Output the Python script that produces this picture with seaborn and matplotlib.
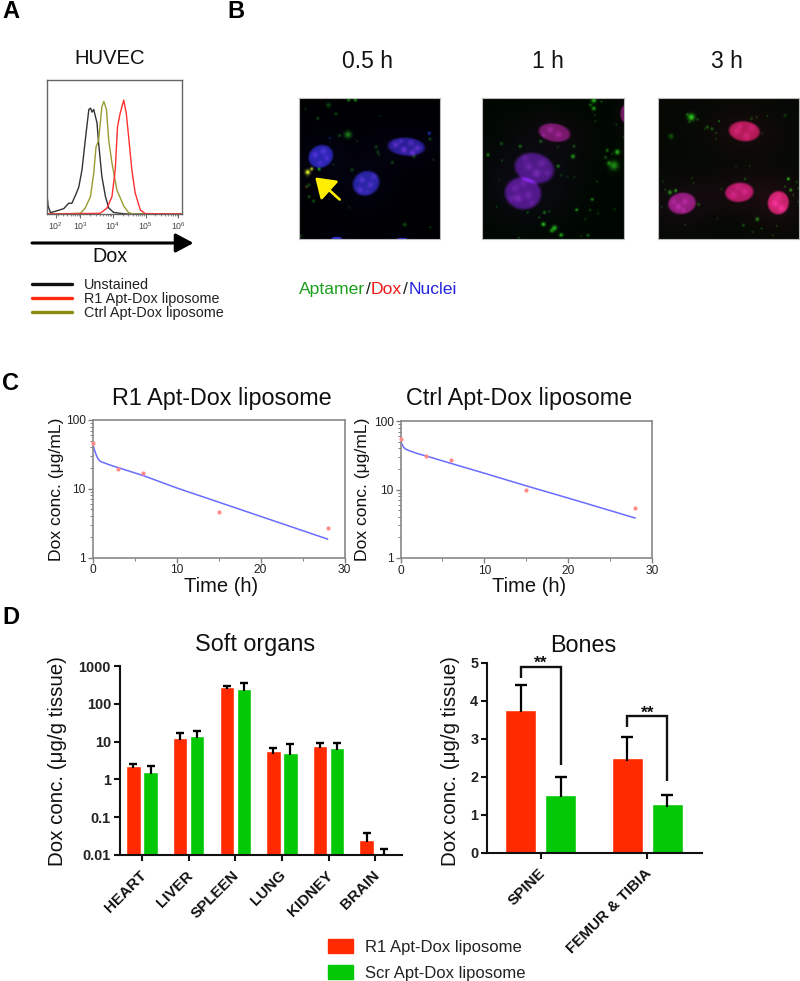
# multi panel figure: flow histogram, micrographs, PK curves, biodistribution bars
import numpy as np
import pandas as pd
import matplotlib
matplotlib.use("Agg")
import matplotlib.pyplot as plt
from matplotlib.lines import Line2D
from matplotlib.patches import Patch
from matplotlib.transforms import ScaledTranslation
import seaborn as sns

sns.set_theme(style="ticks")
plt.rcParams['font.family'] = ['Liberation Sans', 'DejaVu Sans']
plt.rcParams['mathtext.default'] = 'regular'

# panel A, flow histogram (log10 of Dox signal, % of max)
unstained_x = [1.96, 1.98, 2.01, 2.08, 2.23, 2.49, 2.64, 2.74, 2.85, 2.95, 3.05, 3.15, 3.26, 3.31, 3.36, 3.41, 3.51, 3.56, 3.66, 3.77, 3.87, 4.02, 4.22, 4.43, 6.12]
unstained_y = [0, 13, 6, 1, 2, 4, 8, 8, 14, 20, 33, 55, 78, 79, 76, 78, 68, 53, 28, 13, 4.5, 1.2, 0.5, 0, 0]
ctrl_x = [1.96, 3.0, 3.15, 3.31, 3.41, 3.48, 3.56, 3.66, 3.72, 3.80, 3.87, 3.97, 4.12, 4.33, 4.48, 4.63, 6.12]
ctrl_y = [0, 0.5, 4.5, 13, 30.5, 50, 55, 80, 84, 78, 55, 38, 18, 6, 1, 0, 0]
r1_x = [1.96, 3.61, 3.82, 3.97, 4.07, 4.14, 4.22, 4.33, 4.41, 4.48, 4.58, 4.68, 4.84, 4.99, 6.12]
r1_y = [0, 0.5, 4.5, 13, 33, 65, 75, 85, 75, 58, 33, 16, 3, 0.3, 0]
flow_tick_pos = [2.24, 3, 4, 5, 6]
flow_tick_labels = ['$10^{2}$', '$10^{3}$', '$10^{4}$', '$10^{5}$', '$10^{6}$']
flow_legend = ['Unstained', 'R1 Apt-Dox liposome', 'Ctrl Apt-Dox liposome']

# panel B, micrographs: (x, y, rx, ry, angle, r, g, b) for nuclei, (x, y, sigma, amp) for spots
nuclei_05 = [(77, 185, 38, 33, -28, .20, .18, .85), (332, 156, 56, 27, 4, .20, .14, .72), (212, 265, 41, 36, -28, .20, .18, .80),
             (125, 434, 18, 10, 0, .25, .25, 1.), (318, 434, 18, 7, 0, .25, .25, 1.)]
nuclei_1 = [(228, 114, 48, 27, 10, .58, .08, .52), (168, 220, 60, 45, 15, .36, .08, .62), (134, 295, 55, 48, 10, .38, .08, .65),
            (438, 58, 14, 26, 0, .55, .08, .48)]
nuclei_3 = [(283, 110, 47, 30, 5, .85, .08, .40), (268, 292, 43, 29, -5, .85, .08, .48), (385, 323, 32, 35, 10, .95, .12, .50),
            (96, 325, 42, 32, -8, .70, .10, .60)]
specks_05 = [(60, 180, 4, .2), (85, 170, 4, .2), (75, 205, 4, .15), (95, 190, 4, .15), (300, 150, 4, .25), (325, 165, 4, .3), (350, 175, 4, .3), (345, 145, 4, .2),
             (365, 160, 4, .25), (315, 140, 3, .2), (200, 255, 4, .2), (225, 270, 4, .2), (195, 285, 4, .2), (235, 245, 4, .15), (215, 290, 3, .12)]
specks_1 = [(215, 105, 4, .2), (240, 120, 4, .2), (195, 122, 3, .15), (150, 215, 5, .15), (175, 235, 5, .2), (190, 205, 5, .15), (140, 190, 4, .12),
            (205, 235, 4, .12), (120, 310, 5, .2), (150, 300, 5, .15), (110, 280, 5, .12), (135, 265, 5, .12), (160, 325, 4, .1), (100, 310, 4, .1)]
specks_3 = [(260, 110, 5, .15), (290, 125, 5, .15), (305, 100, 5, .12), (270, 95, 4, .12), (250, 300, 5, .15), (285, 290, 5, .15), (265, 275, 5, .1),
            (375, 325, 5, .2), (395, 340, 5, .2), (385, 305, 5, .12), (85, 335, 4, .2), (105, 320, 4, .15), (70, 320, 4, .12), (100, 345, 3, .15)]
green_05 = [(160, 17, 3, .8), (180, 17, 3, .9), (100, 32, 5, .35), (122, 58, 3, .4), (68, 72, 3, .4), (32, 43, 2, .3), (252, 65, 2, .3), (158, 120, 7, .65),
            (133, 123, 3, .4), (242, 157, 3, .4), (247, 172, 3, .4), (250, 180, 2, .4), (290, 203, 3, .4), (170, 225, 3, .4), (186, 140, 2, .3),
            (72, 223, 3, .9), (115, 209, 2, .3), (42, 270, 3, .4), (38, 245, 2, .3), (42, 305, 3, .5), (55, 318, 3, .5), (327, 388, 4, .4), (403, 396, 2, .4),
            (18, 422, 3, .3), (402, 133, 3, .4), (355, 185, 3, .4), (412, 195, 2, .3), (162, 338, 2, .25)]
yellow_05 = [(38, 232, 5, 1.), (50, 222, 3, .9), (35, 275, 3, .3)]
blue_05 = [(400, 116, 3, .8), (104, 131, 2, .5)]
green_1 = [(345, 18, 5, .9), (335, 32, 3, .5), (368, 22, 2, .5), (345, 42, 4, .8), (348, 62, 2, .3), (350, 80, 2, .3), (412, 90, 2, .3), (70, 147, 3, .45),
           (126, 155, 3, .6), (30, 180, 3, .7), (72, 197, 2, .4), (187, 140, 3, .5), (238, 158, 2, .3), (286, 155, 3, .4), (283, 185, 4, .8), (239, 214, 3, .7),
           (385, 167, 3, .6), (415, 172, 5, .9), (400, 178, 2, .4), (380, 188, 3, .4), (405, 212, 9, .7), (390, 205, 4, .6), (248, 241, 2, .4), (267, 246, 2, .3),
           (287, 246, 2, .3), (354, 260, 2, .4), (340, 313, 3, .7), (294, 344, 3, .8), (334, 345, 2, .5), (358, 355, 2, .3), (407, 342, 2, .3), (148, 352, 2, .5),
           (198, 352, 3, .6), (212, 349, 2, .4), (182, 367, 2, .5), (195, 387, 4, 1.), (228, 398, 5, .9), (220, 406, 4, .7), (248, 419, 4, .8), (328, 420, 3, .5),
           (308, 422, 2, .3), (122, 427, 2, .4), (80, 12, 2, .3), (435, 128, 2, .4), (56, 335, 2, .3), (64, 256, 2, .2), (320, 372, 2, .3)]
green_3 = [(124, 68, 7, 1.), (112, 60, 3, .4), (143, 75, 2, .5), (118, 82, 2, .4), (63, 125, 5, .4), (172, 98, 3, .5), (186, 103, 3, .45), (165, 103, 2, .3),
           (198, 115, 2, .4), (198, 132, 2, .3), (207, 80, 2, .6), (305, 72, 3, .3), (320, 68, 2, .3), (352, 65, 2, .3), (405, 63, 3, .3), (337, 117, 2, .25),
           (258, 214, 2, .25), (300, 214, 2, .25), (285, 252, 2, .5), (125, 250, 2, .3), (130, 264, 2, .3), (38, 260, 2, .3), (77, 287, 3, .8), (60, 292, 4, .7),
           (45, 284, 2, .3), (35, 335, 2, .3), (146, 328, 3, .4), (415, 252, 3, 1.), (405, 275, 2, .5), (422, 285, 3, .8), (440, 262, 2, .4), (445, 280, 2, .4),
           (430, 300, 2, .4), (445, 320, 2, .3), (322, 372, 4, .6), (280, 390, 3, .4), (335, 400, 2, .4), (308, 410, 2, .3), (105, 388, 2, .3), (380, 392, 2, .3),
           (368, 420, 2, .3), (215, 283, 2, .3), (202, 370, 2, .2)]
time_labels = ['0.5 h', '1 h', '3 h']
time_label_x = [368, 548, 727]

# panel C, plasma curves
pk_times = [0, 3, 6, 15, 28]
r1_points = [47, 19.2, 17, 4.6, 2.7]
ctrl_points = [54, 30.5, 27, 9.7, 5.3]
fit_times = [0, 0.1, 0.2, 0.4, 0.6, 0.8, 1, 2, 3, 6, 10, 15, 20, 28]
r1_fit = [47, 42, 38, 32, 28, 26, 24.8, 22.3, 20.4, 15.6, 10.3, 6.4, 3.97, 1.85]
ctrl_fit = [54, 48, 45, 41, 39, 38, 37, 33.5, 31, 24.1, 17.3, 11.3, 7.5, 3.83]

# panel D, biodistribution
soft_organs = ['HEART', 'LIVER', 'SPLEEN', 'LUNG', 'KIDNEY', 'BRAIN']
soft_r1 = [2.26, 12.4, 273, 5.5, 7.65, 0.0255]
soft_r1_top = [2.55, 16.5, 290, 6.8, 9.0, 0.038]
soft_scr = [1.6, 13.8, 241, 5.0, 6.9, 0.0115]
soft_scr_top = [2.26, 18.7, 348, 8.8, 9.2, 0.0144]
bones = ['SPINE', 'FEMUR & TIBIA']
bones_r1 = [3.77, 2.49]
bones_r1_top = [4.42, 3.06]
bones_scr = [1.53, 1.28]
bones_scr_top = [2.0, 1.52]
bracket_left = [4.61, 3.3]
bracket_top = [4.9, 3.59]
bracket_right = [2.31, 1.89]
group_names = ['R1 Apt-Dox liposome', 'Scr Apt-Dox liposome']
group_colors = ['#ff2a00', '#03c805']

W, H = 800, 981
fig = plt.figure(figsize=(W / 100, H / 100), dpi=100, facecolor='white')


def box(l, t, r, b):
    return [l / W, 1 - b / H, (r - l) / W, (b - t) / H]


def label(x, y, s, **kw):
    kw.setdefault('ha', 'center')
    kw.setdefault('va', 'center')
    kw.setdefault('color', '#111111')
    return fig.text(x / W, 1 - y / H, s, **kw)


# panel letters
for s, x, y in [('A', 2, 12), ('B', 227, 12), ('C', 2, 383), ('D', 2, 617)]:
    label(x, y, s, ha='left', fontsize=17, fontweight='bold', color='black')

# A
axA = fig.add_axes(box(46.5, 80, 182, 214))
sns.lineplot(x=unstained_x, y=unstained_y, color='#333333', lw=1.0, ax=axA, sort=False)
sns.lineplot(x=ctrl_x, y=ctrl_y, color='#9a9a30', lw=1.0, ax=axA, sort=False)
sns.lineplot(x=r1_x, y=r1_y, color='#ff3030', lw=1.0, ax=axA, sort=False)
axA.set_xlim(1.96, 6.12)
axA.set_ylim(0, 100)
axA.set_yticks([])
axA.set_xticks(flow_tick_pos)
axA.set_xticklabels(flow_tick_labels, fontsize=6.3, color='#444444')
axA.set_xticks([np.log10(m) + d for d in [2, 3, 4, 5] for m in [2, 3, 4, 5, 6, 7, 8, 9]], minor=True)
axA.tick_params(axis='x', which='major', length=3, width=0.7, color='#666666', pad=1.5)
axA.tick_params(axis='x', which='minor', length=1.5, width=0.5, color='#666666')
for sp in axA.spines.values():
    sp.set_color('#666666')
    sp.set_linewidth(1)
label(110, 59, 'HUVEC', fontsize=14.6)
axA.annotate('', xy=(193.5 / W, 1 - 243 / H), xytext=(32 / W, 1 - 243 / H), xycoords='figure fraction', textcoords='figure fraction',
             arrowprops=dict(arrowstyle='-|>,head_length=0.6,head_width=0.32', color='black', lw=2.2, shrinkA=0, shrinkB=0, mutation_scale=18))
label(110, 257, 'Dox', fontsize=14.2)
handles = [Line2D([], [], color=c, lw=2.4) for c in ['#111111', '#ff2a10', '#8b8b10']]
fig.legend(handles, flow_legend, loc='upper left', bbox_to_anchor=(32 / W, 1 - 278 / H), frameon=False, fontsize=10.4, labelspacing=0.0,
           handlelength=2.75, handletextpad=0.85, borderpad=0, borderaxespad=0, labelcolor='#222222')


# B
def render(nuclei, specks, green, yellow, blue, x0, y0, bg, glow):
    n = 141
    xs = x0 + (np.arange(n) + 0.5) * 3
    ys = y0 + (np.arange(n) + 0.5) * 3
    gx, gy = np.meshgrid(xs, ys)
    img = np.zeros((n, n, 3)) + np.array(bg)

    def blob(s, k=1.0):
        return s[3] * np.exp(-((gx - s[0]) ** 2 + (gy - s[1]) ** 2) / (2 * (k * s[2]) ** 2))

    for nu in nuclei:
        cx, cy, rx, ry, ang, r, g, b = nu
        t = np.radians(ang)
        u = (gx - cx) * np.cos(t) + (gy - cy) * np.sin(t)
        v = -(gx - cx) * np.sin(t) + (gy - cy) * np.cos(t)
        d = np.sqrt((u / rx) ** 2 + (v / ry) ** 2)
        mask = np.clip((1.08 - d) / 0.2, 0, 1)
        halo = glow * np.exp(-d ** 2 / 5.0)
        img += (mask * 0.72 + halo)[..., None] * np.array([r, g, b])
    for s in specks:
        img += blob(s, 1.6)[..., None] * np.array([0.8, 0.3, 0.85])
    for s in green:
        img += 0.8 * blob(s)[..., None] * np.array([0.18, 0.95, 0.12])
    for s in yellow:
        img += blob(s)[..., None] * np.array([0.9, 1.0, 0.1])
    for s in blue:
        img += blob(s)[..., None] * np.array([0.1, 0.3, 1.0])
    return np.clip(img, 0, 1)


panels = [(298.5, 440, 12, nuclei_05, specks_05, green_05, yellow_05, blue_05, (0, 0, 0.015), 0.06),
          (482, 623.5, 12, nuclei_1, specks_1, green_1, [], [], (0, 0.03, 0), 0.08),
          (658, 799, 24, nuclei_3, specks_3, green_3, [], [], (0.02, 0.035, 0.015), 0.08)]
for (l, r, x0, nu, sp_, gr, ye, bl, bg, glow), tl, tx in zip(panels, time_labels, time_label_x):
    ax = fig.add_axes(box(l, 97.5, r, 239))
    ax.imshow(render(nu, sp_, gr, ye, bl, x0, 8, bg, glow), extent=[x0, x0 + 423, 8 + 423, 8], interpolation='bilinear', aspect='auto')
    ax.set_xticks([])
    ax.set_yticks([])
    for s in ax.spines.values():
        s.set_color('#bbbbbb')
        s.set_linewidth(0.8)
    label(tx, 62, tl, fontsize=16.5)
    if tl == '0.5 h':
        ax.annotate('', xy=(62, 247), xytext=(135, 313),
                    arrowprops=dict(arrowstyle='-|>,head_length=0.65,head_width=0.44', color='#ffee00', lw=1.9, shrinkA=0, shrinkB=0, mutation_scale=18))

# multi coloured caption, placed word by word
cx = 299
r_ = fig.canvas.get_renderer()
for part, col in [('Aptamer', '#1b9e1b'), ('/', '#222222'), ('Dox', '#f01818'), ('/', '#222222'), ('Nuclei', '#2222e0')]:
    t = label(cx, 289, part, ha='left', fontsize=12.6, color=col)
    cx = t.get_window_extent(r_).x1 + 0.5


# C
def pk_panel(rect, fit, points, title, tx, ylx, xlx):
    ax = fig.add_axes(box(*rect))
    sns.lineplot(x=fit_times, y=fit, color='#6a6cff', lw=1.1, ax=ax)
    sns.scatterplot(x=pk_times, y=points, color='#ff8a8a', s=9, linewidth=0, ax=ax, clip_on=False, zorder=3)
    ax.set_yscale('log')
    ax.set_xlim(0, 30)
    ax.set_ylim(1, 100)
    ax.set_xticks([0, 10, 20, 30])
    ax.set_xticks([5, 15, 25], minor=True)
    ax.set_yticks([1, 10, 100])
    ax.set_yticklabels(['1', '10', '100'])
    ax.tick_params(axis='both', which='major', labelsize=8.6, length=3.5, width=1, color='#808080', pad=1.5, labelcolor='#222222')
    ax.tick_params(axis='both', which='minor', length=2, width=0.7, color='#808080')
    ax.tick_params(axis='y', which='minor', left=True)
    for sp in ax.spines.values():
        sp.set_color('#888888')
        sp.set_linewidth(1.2)
    label(tx, 399, title, fontsize=16.8)
    label(xlx, 587, 'Time (h)', fontsize=14.5)
    label(ylx, 489, 'Dox conc. (μg/mL)', fontsize=12.6, rotation=90)
    return ax


pk_panel((92.5, 420, 344.5, 557.5), r1_fit, r1_points, 'R1 Apt-Dox liposome', 222, 56.5, 221.5)
pk_panel((400.5, 421, 652, 558), ctrl_fit, ctrl_points, 'Ctrl Apt-Dox liposome', 519, 363, 529)

# D
axS = fig.add_axes(box(120, 666, 401.7, 855))
dfS = pd.DataFrame({'organ': soft_organs * 2, 'group': [group_names[0]] * 6 + [group_names[1]] * 6, 'conc': soft_r1 + soft_scr})
sns.barplot(data=dfS, x='organ', y='conc', hue='group', palette=group_colors, saturation=1, errorbar=None, width=0.73, gap=0.15,
            legend=False, log_scale=True, ax=axS)
# zero based bars do not survive the log axis, start them at the axis floor
for cont in axS.containers:
    for p in cont:
        top = p.get_height()
        p.set_y(0.01)
        p.set_height(top - 0.01)

axB = fig.add_axes(box(487.3, 662.7, 701.7, 853))
dfB = pd.DataFrame({'organ': bones * 2, 'group': [group_names[0]] * 2 + [group_names[1]] * 2, 'conc': bones_r1 + bones_scr})
sns.barplot(data=dfB, x='organ', y='conc', hue='group', palette=group_colors, saturation=1, errorbar=None, width=0.75, gap=0.24,
            legend=False, ax=axB)

# error bars, the stem runs a little way into the bar
for ax, tops, vals, cap, log_axis in [(axS, [soft_r1_top, soft_scr_top], [soft_r1, soft_scr], 3.2, True),
                                      (axB, [bones_r1_top, bones_scr_top], [bones_r1, bones_scr], 4.3, False)]:
    for cont, top, val in zip(ax.containers, tops, vals):
        xs = [p.get_x() + p.get_width() / 2 for p in cont]
        upper = np.array(top) - np.array(val)
        lower = np.array(val) * 0.12 if log_axis else np.full(len(val), 0.07)
        _, caps, _ = ax.errorbar(xs, val, yerr=[lower, upper], fmt='none', ecolor='black', elinewidth=1.6, capsize=cap, capthick=1.7,
                                 clip_on=False, zorder=5)
        caps[0].set_visible(False)
    ax.set_xlabel('')
    ax.set_ylabel('')
    sns.despine(ax=ax)
    for s in ['left', 'bottom']:
        ax.spines[s].set_linewidth(1.5)
        ax.spines[s].set_color('#111111')
    ax.tick_params(axis='both', which='major', length=4.5, width=1.5, color='#111111', pad=2)
    ax.tick_params(axis='y', which='minor', left=False)

axS.set_xlim(-0.472, 5.57)
axS.set_ylim(0.01, 1000)
axS.set_yticks([0.01, 0.1, 1, 10, 100, 1000])
axS.set_yticklabels(['0.01', '0.1', '1', '10', '100', '1000'], fontweight='bold', fontsize=10.4, color='#222222')
axB.set_xlim(-0.5, 1.509)
axB.set_ylim(0, 5)
axB.set_yticks([0, 1, 2, 3, 4, 5])
axB.set_yticklabels(['0', '1', '2', '3', '4', '5'], fontweight='bold', fontsize=10.4, color='#222222')
for ax in [axS, axB]:
    ax.tick_params(axis='x', which='major', pad=5)
    plt.setp(ax.get_xticklabels(), rotation=45, ha='right', rotation_mode='anchor', fontweight='bold', fontsize=11, color='#111111')
    for t in ax.get_xticklabels():
        t.set_transform(t.get_transform() + ScaledTranslation(-3 / 100, 0, fig.dpi_scale_trans))

# significance brackets on the bones panel
red_bars, green_bars = axB.containers[0], axB.containers[1]
for i in range(2):
    xa = red_bars[i].get_x() + red_bars[i].get_width() / 2
    xb = green_bars[i].get_x() + green_bars[i].get_width() / 2
    axB.plot([xa, xa, xb, xb], [bracket_left[i], bracket_top[i], bracket_top[i], bracket_right[i]], color='#111111', lw=1.7, clip_on=False,
             solid_joinstyle='miter', solid_capstyle='butt')
    axB.text((xa + xb) / 2, bracket_top[i] + 0.085, '**', ha='center', va='center', fontsize=12.5, fontweight='bold', color='#111111', clip_on=False)

label(255, 645, 'Soft organs', fontsize=16.8)
label(583, 645, 'Bones', fontsize=16.8)
label(58, 761, 'Dox conc. (μg/g tissue)', fontsize=14.8, rotation=90)
label(450, 761, 'Dox conc. (μg/g tissue)', fontsize=14.8, rotation=90)

fig.legend([Patch(color=c) for c in group_colors], group_names, loc='upper left', bbox_to_anchor=(328 / W, 1 - 939 / H), frameon=False, fontsize=12,
           labelspacing=0.62, handlelength=1.5, handleheight=0.9, handletextpad=0.72, borderpad=0, borderaxespad=0, labelcolor='#222222')

fig.savefig('out.png', dpi=100)
